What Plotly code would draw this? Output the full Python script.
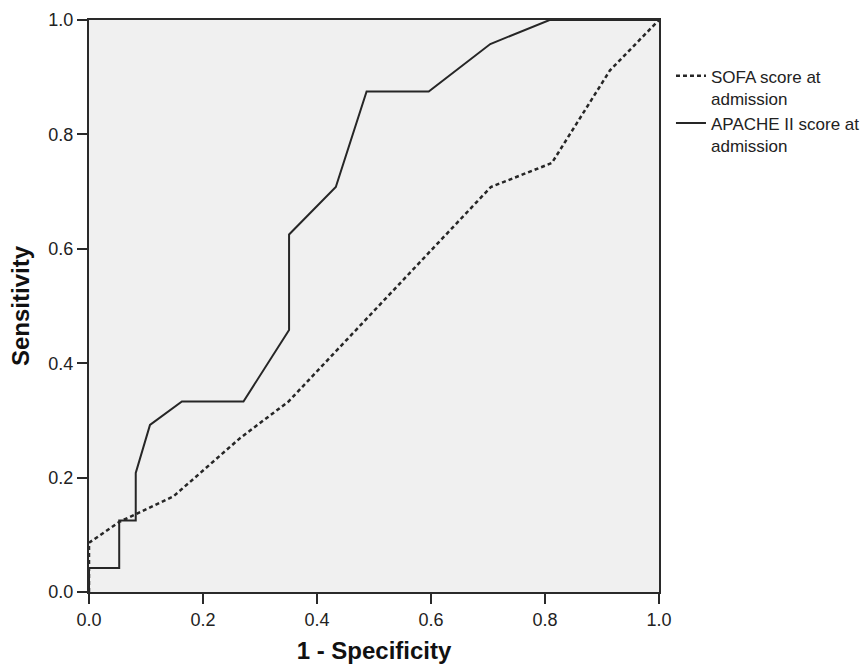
import plotly.graph_objects as go

# SOFA score at admission (dotted ROC curve)
sofa_fpr = [0, 0, 0.054, 0.148, 0.265, 0.35, 0.705, 0.812, 0.914, 1.0]
sofa_tpr = [0, 0.086, 0.123, 0.167, 0.269, 0.333, 0.708, 0.75, 0.912, 1.0]

# APACHE II score at admission (solid ROC curve)
apache_fpr = [0, 0, 0.053, 0.053, 0.082, 0.082, 0.107, 0.163, 0.271, 0.351, 0.351,
              0.433, 0.487, 0.596, 0.704, 0.808, 1.0]
apache_tpr = [0, 0.042, 0.042, 0.125, 0.125, 0.208, 0.292, 0.333, 0.333, 0.458, 0.625,
              0.708, 0.875, 0.875, 0.958, 1.0, 1.0]

tick_vals = [0.0, 0.2, 0.4, 0.6, 0.8, 1.0]
tick_text = ["0.0", "0.2", "0.4", "0.6", "0.8", "1.0"]

FONT = "Liberation Sans, Arial, sans-serif"
AX = "#2a2a2a"

fig = go.Figure()
fig.add_trace(go.Scatter(
    x=sofa_fpr, y=sofa_tpr, mode="lines",
    name="SOFA score at<br>admission",
    line=dict(color="#262626", width=2.5, dash="4px,3px"),
))
fig.add_trace(go.Scatter(
    x=apache_fpr, y=apache_tpr, mode="lines",
    name="APACHE II score at<br>admission",
    line=dict(color="#262626", width=2),
))

axis_common = dict(
    range=[0, 1],
    tickvals=tick_vals,
    ticktext=tick_text,
    ticks="outside",
    ticklen=10,
    tickwidth=2,
    tickcolor=AX,
    showline=True,
    linewidth=2,
    linecolor=AX,
    mirror=True,
    showgrid=False,
    zeroline=False,
    automargin=False,
    tickfont=dict(family=FONT, size=18, color="#222222"),
)

fig.update_layout(
    width=867,
    height=664,
    margin=dict(l=89, r=208, t=20, b=72, autoexpand=False),
    paper_bgcolor="white",
    plot_bgcolor="#f0f0f0",
    font=dict(family=FONT, color="#222222"),
    xaxis=dict(
        **axis_common,
        title=dict(text="<b>1 - Specificity</b>",
                   font=dict(family=FONT, size=24, color="#111111"),
                   standoff=17),
    ),
    yaxis=dict(
        **axis_common,
        title=dict(text="<b>Sensitivity</b>",
                   font=dict(family=FONT, size=24, color="#111111"),
                   standoff=12),
    ),
    legend=dict(
        x=1.021, xanchor="left",
        y=0.933, yanchor="top",
        valign="top",
        bgcolor="rgba(0,0,0,0)",
        font=dict(family=FONT, size=17, color="#222222"),
        tracegroupgap=0,
        itemwidth=30,
    ),
    showlegend=True,
)

fig.write_html(
    "out.html",
    config={"displayModeBar": False},
    post_script="document.body.style.margin='0';document.body.style.overflow='hidden';",
)
